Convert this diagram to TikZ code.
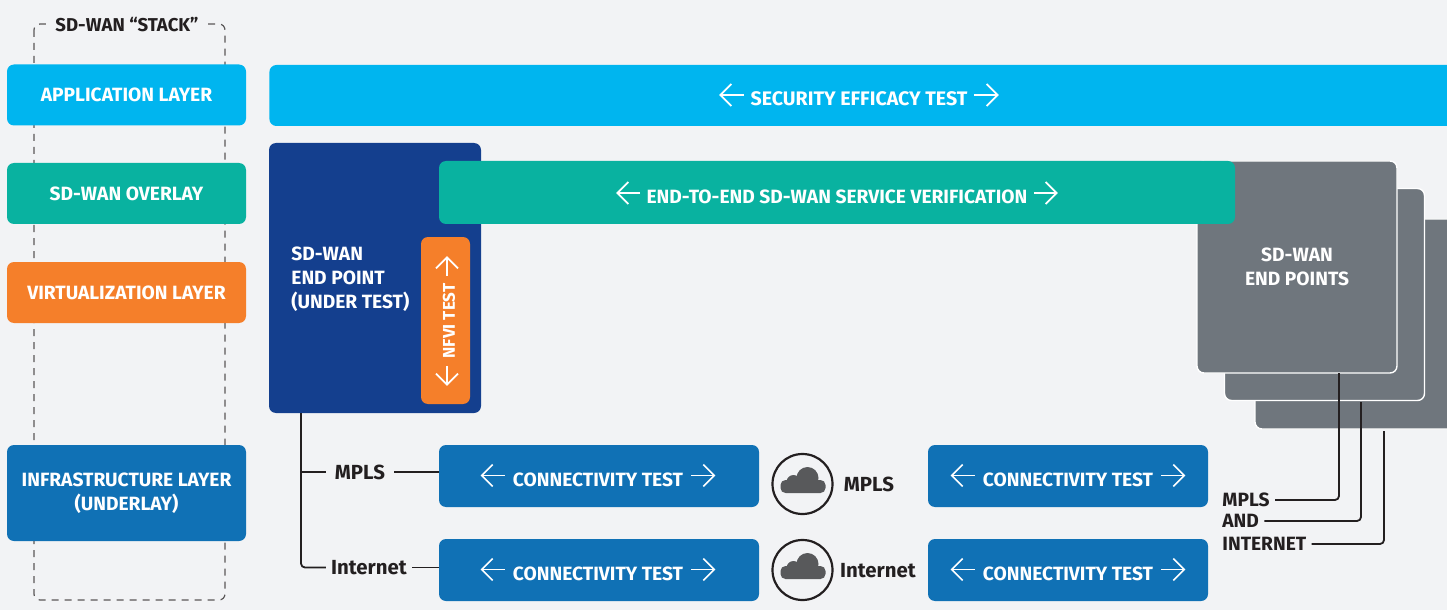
\documentclass[tikz,border=0pt]{standalone}
\usepackage{fontspec}
\setmainfont{Fira Sans}
\usetikzlibrary{arrows.meta,positioning,calc,shapes.geometric}
\definecolor{pagebg}{HTML}{F2F3F5}
\definecolor{appcyan}{HTML}{00B5EF}
\definecolor{overlayteal}{HTML}{09B2A0}
\definecolor{virtorange}{HTML}{F57F2A}
\definecolor{infrablue}{HTML}{1071B5}
\definecolor{endnavy}{HTML}{143F8E}
\definecolor{endgrey}{HTML}{6F767D}
\definecolor{inkdark}{HTML}{231F20}
\definecolor{cloudgrey}{HTML}{58595B}
\tikzset{
  >={Straight Barb[length=5.5pt,width=11pt]},
}
\tikzstyle{every node}=[font=\bfseries\fontsize{9.6}{12}\selectfont]
\tikzstyle{block}=[rounded corners=3.5pt,inner sep=0pt,text=white,align=center]
\tikzstyle{layerbox}=[block,minimum width=119.5pt,minimum height=30.5pt]
\tikzstyle{connbox}=[block,fill=infrablue,minimum height=31pt]
\tikzstyle{greybox}=[block,fill=endgrey,draw=white,line width=.7pt,minimum width=100pt,minimum height=106pt]
\tikzstyle{boxtext}=[text=white,inner sep=0pt,align=center]
\tikzstyle{twoway}=[white,line width=.85pt,->]
\tikzstyle{wire}=[inkdark,line width=.9pt,rounded corners=2pt]
\tikzstyle{wirelabel}=[text=inkdark,inner ysep=0pt,inner xsep=2.5pt]
\tikzstyle{biglabel}=[text=inkdark,font=\bfseries\fontsize{10.2}{12}\selectfont]
\tikzset{
  cloudicon/.pic={
    \fill[cloudgrey] (5,-6) circle (5.5pt);
    \fill[cloudgrey] (-9,-2) circle (3.5pt);
    \fill[cloudgrey,rounded corners=2.5pt] (-22,-4) rectangle (23,9);
  },
}

\begin{document}
\begin{tikzpicture}[x=.5pt,y=-.5pt]
    \useasboundingbox (0,0) rectangle (1447,610);
    \clip (0,0) rectangle (1447,610);
    \fill[pagebg] (0,0) rectangle (1447,610);
    % stack outline and left column
    \draw[inkdark!75,line width=.6pt,dash pattern=on 3.5pt off 3pt,rounded corners=3pt] (34,24) rectangle (225,600);
    \node[fill=pagebg,text=inkdark,inner xsep=4.5pt,inner ysep=2pt,font=\bfseries\fontsize{9.3}{12}\selectfont] (stacklabel) at (127,25) {SD-WAN “STACK”};
    \node[layerbox,fill=appcyan] (applayer) at (126.5,95) {APPLICATION LAYER};
    \node[layerbox,fill=overlayteal] (overlay) at (126.5,193.5) {SD-WAN OVERLAY};
    \node[layerbox,fill=virtorange] (virtlayer) at (126.5,292.5) {VIRTUALIZATION LAYER};
    \node[layerbox,fill=infrablue,minimum height=48pt] (infralayer) at (126.5,493) {INFRASTRUCTURE LAYER\\(UNDERLAY)};
    % security bar
    \node[block,fill=appcyan,minimum width=600pt,minimum height=30.5pt,anchor=west] (secbar) at (269,95.5) {};
    \node[boxtext,font=\bfseries\fontsize{9.8}{12}\selectfont] (sectext) at (859,99) {SECURITY EFFICACY TEST};
    \draw[twoway] ([xshift=-3pt,yshift=2pt]sectext.west) -- ++(-12.5pt,0);
    \draw[twoway] ([xshift=3pt,yshift=2pt]sectext.east) -- ++(12.5pt,0);
    % end point under test
    \node[block,fill=endnavy,minimum width=106pt,minimum height=135pt] (underTest) at (375,278) {};
    \node[boxtext,align=left,anchor=west] (undertext) at (291,279) {SD-WAN\\END POINT\\(UNDER TEST)};
    \node[block,fill=virtorange,minimum width=24.5pt,minimum height=83.5pt] (nfvi) at (445.5,320.5) {};
    \node[boxtext,rotate=90,font=\bfseries\fontsize{8.5}{12}\selectfont] (nfvitext) at (449,321) {NFVI TEST};
    \draw[twoway] ([xshift=-1pt,yshift=3.5pt]nfvitext.east) -- ++(0,10pt);
    \draw[twoway] ([xshift=-1pt,yshift=-3.5pt]nfvitext.west) -- ++(0,-10pt);
    % grey end points
    \node[greybox,minimum width=102.5pt,minimum height=105pt] (backpts) at (1357.5,324) {};
    \node[greybox] (midpts) at (1324.5,294.5) {};
    \node[greybox] (frontpts) at (1297,267) {};
    \node[boxtext] (fronttext) at (1297,267) {SD-WAN\\END POINTS};
    % overlay bar
    \node[block,fill=overlayteal,minimum width=398pt,minimum height=31.5pt] (e2ebar) at (837,192.5) {};
    \node[boxtext] (e2etext) at (837,197) {END-TO-END SD-WAN SERVICE VERIFICATION};
    \draw[twoway] ([xshift=-3pt,yshift=2pt]e2etext.west) -- ++(-12pt,0);
    \draw[twoway] ([xshift=3pt,yshift=2pt]e2etext.east) -- ++(12pt,0);
    % connectivity boxes
    \node[connbox,minimum width=160pt] (connA) at (599,476) {};
    \node[connbox,minimum width=160pt] (connB) at (599,570) {};
    \node[connbox,minimum width=140pt] (connC) at (1068,476) {};
    \node[connbox,minimum width=140pt] (connD) at (1068,570) {};
    \node[boxtext] (textA) at (598,479.5) {CONNECTIVITY TEST};
    \node[boxtext] (textB) at (598,573.5) {CONNECTIVITY TEST};
    \node[boxtext] (textC) at (1068,479.5) {CONNECTIVITY TEST};
    \node[boxtext] (textD) at (1068,573.5) {CONNECTIVITY TEST};
    \draw[twoway] ([xshift=-4pt,yshift=2pt]textA.west) -- ++(-12pt,0);
    \draw[twoway] ([xshift=4pt,yshift=2pt]textA.east) -- ++(12pt,0);
    \draw[twoway] ([xshift=-4pt,yshift=2pt]textB.west) -- ++(-12pt,0);
    \draw[twoway] ([xshift=4pt,yshift=2pt]textB.east) -- ++(12pt,0);
    \draw[twoway] ([xshift=-4pt,yshift=2pt]textC.west) -- ++(-12pt,0);
    \draw[twoway] ([xshift=4pt,yshift=2pt]textC.east) -- ++(12pt,0);
    \draw[twoway] ([xshift=-4pt,yshift=2pt]textD.west) -- ++(-12pt,0);
    \draw[twoway] ([xshift=4pt,yshift=2pt]textD.east) -- ++(12pt,0);
    % clouds
    \node[circle,draw=inkdark,line width=1.1pt,minimum size=30pt,inner sep=0pt] (mplsring) at (802.5,484) {};
    \node[circle,draw=inkdark,line width=1.1pt,minimum size=30pt,inner sep=0pt] (netring) at (802.5,570) {};
    \pic at (mplsring) {cloudicon};
    \pic at (netring) {cloudicon};
    \node[biglabel,inner sep=0pt] (mplscloud) at (869,484) {MPLS};
    \node[biglabel,inner sep=0pt] (netcloud) at (878,571) {Internet};
    % left wires
    \node[wirelabel,biglabel,inner xsep=4.5pt] (mplsleft) at (360,472) {MPLS};
    \node[wirelabel,biglabel,inner xsep=2.5pt] (netleft) at (369,567.5) {Internet};
    \coordinate (trunk) at (301,413);
    \draw[wire] (trunk) |- (netleft.west);
    \draw[wire] (trunk |- mplsleft) -- (mplsleft.west);
    \draw[wire] (mplsleft.east) -- (mplsleft.east -| connA.west);
    \draw[wire] (netleft.east) -- (netleft.east -| connB.west);
    % right wires
    \node[wirelabel,anchor=west] (mplsright) at (1217,500) {MPLS};
    \node[wirelabel,anchor=west] (andright) at (1217,521) {AND};
    \node[wirelabel,anchor=west] (netright) at (1217,544) {INTERNET};
    \coordinate (frontout) at (1339,373);
    \coordinate (midout) at (1361,402);
    \coordinate (backout) at (1384,431);
    \draw[wire] (frontout) |- (mplsright.east);
    \draw[wire] (midout) |- (andright.east);
    \draw[wire] (backout) |- (netright.east);
\end{tikzpicture}
\end{document}
